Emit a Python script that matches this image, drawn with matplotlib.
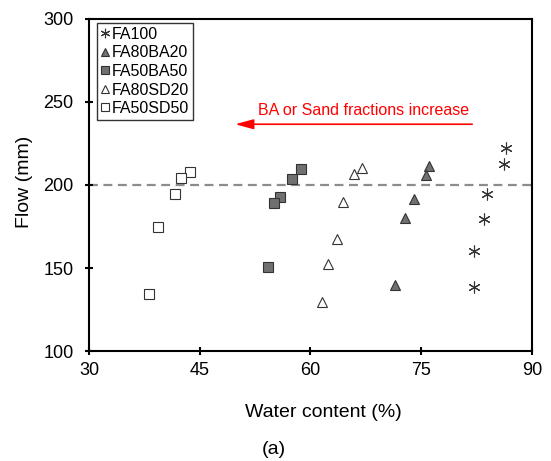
import matplotlib
matplotlib.use('Agg')
import matplotlib.pyplot as plt

plt.rcParams['font.family'] = ['Liberation Sans', 'DejaVu Sans']

# data
fa100_x = [86.5, 86.2, 83.9, 83.5, 82.1, 82.1]
fa100_y = [222.5, 212.5, 194.5, 179.5, 160.5, 138.5]

fa80ba20_x = [76.1, 75.6, 74.0, 72.8, 71.4]
fa80ba20_y = [211.5, 206, 191.5, 180, 139.5]

fa50ba50_x = [58.7, 57.5, 55.9, 55.0, 54.2]
fa50ba50_y = [209.5, 203.5, 192.5, 189, 150.5]

fa80sd20_x = [67.0, 65.9, 64.4, 63.6, 62.4, 61.6]
fa80sd20_y = [210.5, 206.5, 189.5, 167.5, 152.5, 129.5]

fa50sd50_x = [43.7, 42.4, 41.7, 39.3, 38.1]
fa50sd50_y = [208, 204.5, 194.5, 174.5, 134.5]

ref_flow = 200
x_ticks = [30, 45, 60, 75, 90]
y_ticks = [100, 150, 200, 250, 300]

fig = plt.figure(figsize=(5.51, 4.61), dpi=100)
ax = fig.add_axes([0.1615, 0.2386, 0.804, 0.7202])

grey = '#707070'
ms = 7.5
ax.plot(fa100_x, fa100_y, linestyle='none', marker=(6, 2, 0), markersize=8.5,
        color='#333333', markeredgewidth=0.8, label='FA100')
ax.plot(fa80ba20_x, fa80ba20_y, linestyle='none', marker='^', markersize=ms,
        markerfacecolor=grey, markeredgecolor='#333333', markeredgewidth=0.8, label='FA80BA20')
ax.plot(fa50ba50_x, fa50ba50_y, linestyle='none', marker='s', markersize=ms,
        markerfacecolor=grey, markeredgecolor='#333333', markeredgewidth=0.8, label='FA50BA50')
ax.plot(fa80sd20_x, fa80sd20_y, linestyle='none', marker='^', markersize=ms,
        markerfacecolor='white', markeredgecolor='#333333', markeredgewidth=0.8, label='FA80SD20')
ax.plot(fa50sd50_x, fa50sd50_y, linestyle='none', marker='s', markersize=ms,
        markerfacecolor='white', markeredgecolor='#333333', markeredgewidth=0.8, label='FA50SD50')

ax.axhline(ref_flow, color='#8c8c8c', linewidth=1.6, linestyle=(0, (4, 2.5)), zorder=0)

# red arrow + note
ax.annotate('', xy=(49.8, 236.6), xytext=(81.9, 236.6),
            arrowprops=dict(arrowstyle='-|>,head_length=1.1,head_width=0.3',
                            color='red', lw=1.2, shrinkA=0, shrinkB=0))
ax.text(67.2, 244.6, 'BA or Sand fractions increase', color='red', fontsize=11.5,
        ha='center', va='center')

ax.set_xlim(30, 90)
ax.set_ylim(100, 300)
ax.set_xticks(x_ticks)
ax.set_yticks(y_ticks)
ax.tick_params(axis='both', direction='inout', length=6, width=1.5, labelsize=13)
ax.tick_params(axis='x', pad=5)
ax.tick_params(axis='y', pad=8)
for s in ax.spines.values():
    s.set_linewidth(1.5)

leg = ax.legend(loc='upper left', bbox_to_anchor=(0.018, 0.988), borderaxespad=0,
                fontsize=11.5, labelspacing=0.22, handlelength=0.55, handletextpad=0.15,
                borderpad=0.25, markerscale=0.8, fancybox=False, framealpha=1,
                edgecolor='#333333')
leg.get_frame().set_linewidth(1.0)

fig.text(0.586, 0.106, 'Water content (%)', fontsize=14, ha='center', va='center')
fig.text(0.045, 0.605, 'Flow (mm)', fontsize=14, ha='center', va='center', rotation=90)
fig.text(0.497, 0.026, '(a)', fontsize=14, ha='center', va='center')

fig.savefig('out.png', dpi=100)
